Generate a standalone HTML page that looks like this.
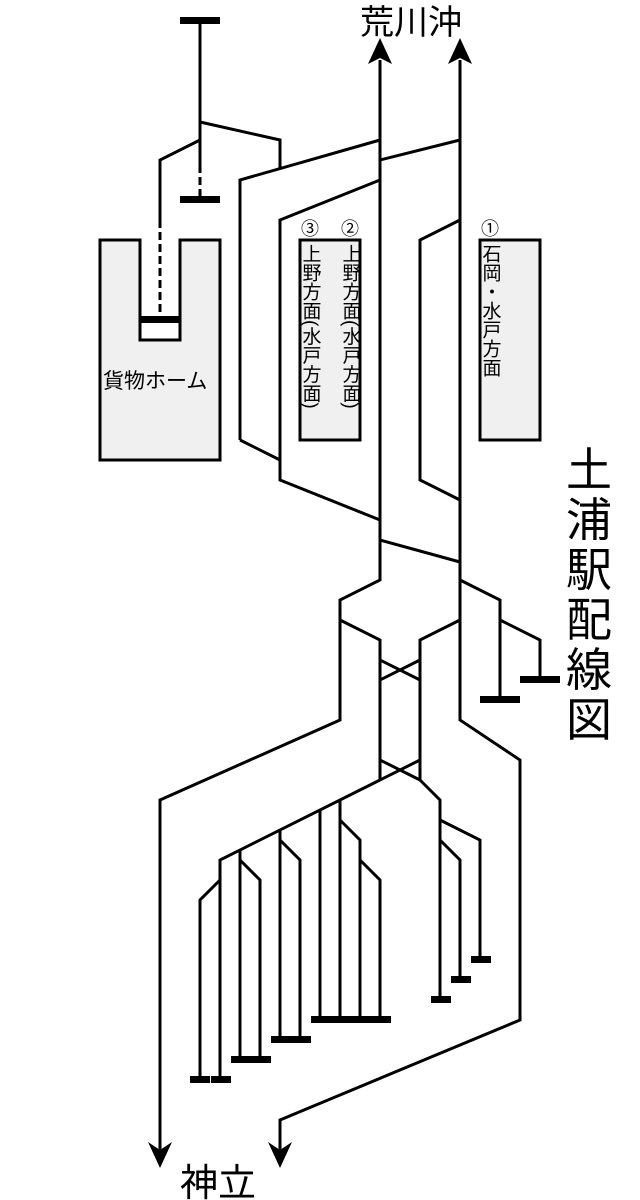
<!DOCTYPE html>
<html><head><meta charset="utf-8"><style>
html,body{margin:0;padding:0;background:#fff}
svg{display:block}
text{font-family:"Liberation Sans","Noto Sans CJK JP",sans-serif;fill:#000}
.v{writing-mode:tb;glyph-orientation-vertical:0}
</style></head><body>
<svg width="640" height="1200" viewBox="0 0 640 1200" xmlns="http://www.w3.org/2000/svg">
<g fill="#f0f0f0" stroke="#000" stroke-width="3">
<path d="M100 240 H140 V340 H180 V240 H220 V460 H100 Z"/>
<rect x="300" y="240" width="60" height="200"/>
<rect x="480" y="240" width="60" height="200"/>
</g>
<rect x="141.5" y="321.5" width="37" height="17" fill="#fff"/>
<g fill="none" stroke="#000" stroke-width="3" stroke-linejoin="miter">
<path d="M200 20 V165"/>
<path d="M200 165 V198" stroke-dasharray="8,4"/>
<path d="M200 122 L280 140 V168"/>
<path d="M200 140 L160 160 V220"/>
<path d="M160 220 V318" stroke-dasharray="8,4"/>
<path d="M380 60 V580 L340 600 V720 L160 800 V1160"/>
<path d="M460 60 V720 L520 760 V1020 L280 1120 V1160"/>
<path d="M240 440 V180 L380 140"/>
<path d="M240 440 L280 460"/>
<path d="M380 160 L460 140"/>
<path d="M380 520 L280 480 V220 L380 180"/>
<path d="M460 500 L420 480 V240 L460 220"/>
<path d="M380 540 L460 562"/>
<path d="M340 620 L380 640 V780"/>
<path d="M460 620 L420 640 V780"/>
<path d="M380 660 L420 680 M380 680 L420 660"/>
<path d="M380 760 L420 780 M380 780 L420 760"/>
<path d="M460 580 L500 600 V700"/>
<path d="M500 620 L540 640 V680"/>
<path d="M380 780 L220 860 V1080"/>
<path d="M220 880 L200 900 V1080"/>
<path d="M240 850 V1060 M240 860 L260 880 V1060"/>
<path d="M280 830 V1040 M280 840 L300 860 V1040"/>
<path d="M320 810 V1020 M340 800 V1020 M340 820 L360 840 V1020"/>
<path d="M360 860 L380 880 V1020"/>
<path d="M420 780 L440 800 V1000"/>
<path d="M440 820 L480 840 V960"/>
<path d="M440 840 L460 860 V980"/>
</g>
<g fill="#000">
<rect x="180" y="17" width="40" height="7"/>
<rect x="180" y="196" width="40" height="7"/>
<rect x="140" y="316" width="40" height="7"/>
<rect x="480" y="696" width="40" height="7"/>
<rect x="520" y="676" width="40" height="7"/>
<rect x="190" y="1076" width="20" height="7"/>
<rect x="211" y="1076" width="20" height="7"/>
<rect x="231" y="1056" width="40" height="7"/>
<rect x="271" y="1036" width="40" height="7"/>
<rect x="311" y="1016" width="80" height="7"/>
<rect x="431" y="996" width="20" height="7"/>
<rect x="451" y="976" width="20" height="7"/>
<rect x="471" y="956" width="20" height="7"/>
<path d="M368 64 L380 38 L392 64 L380 58 Z"/>
<path d="M448 64 L460 38 L472 64 L460 58 Z"/>
<path d="M148 1142 L160 1168 L172 1142 L160 1150 Z"/>
<path d="M268 1142 L280 1168 L292 1142 L280 1150 Z"/>
</g>
<text x="360" y="34" font-size="34">荒川沖</text>
<text x="180" y="1196" font-size="38">神立</text>
<g font-size="46">
<text x="566" y="486">土</text>
<text x="566" y="536">浦</text>
<text x="566" y="586">駅</text>
<text x="566" y="636">配</text>
<text x="566" y="686">線</text>
<text x="566" y="736">図</text>
</g>
<text x="103" y="388" font-size="21">貨物ホーム</text>
<g font-size="18">
<text x="301" y="235">③</text>
<text x="341" y="235">②</text>
<text x="481" y="235">①</text>
</g>
<g font-size="19">
<text class="v" x="310" y="244">上野方面(水戸方面)</text>
<text class="v" x="350" y="244">上野方面(水戸方面)</text>
<text class="v" x="490" y="244">石岡・水戸方面</text>
</g>
</svg>
</body></html>
